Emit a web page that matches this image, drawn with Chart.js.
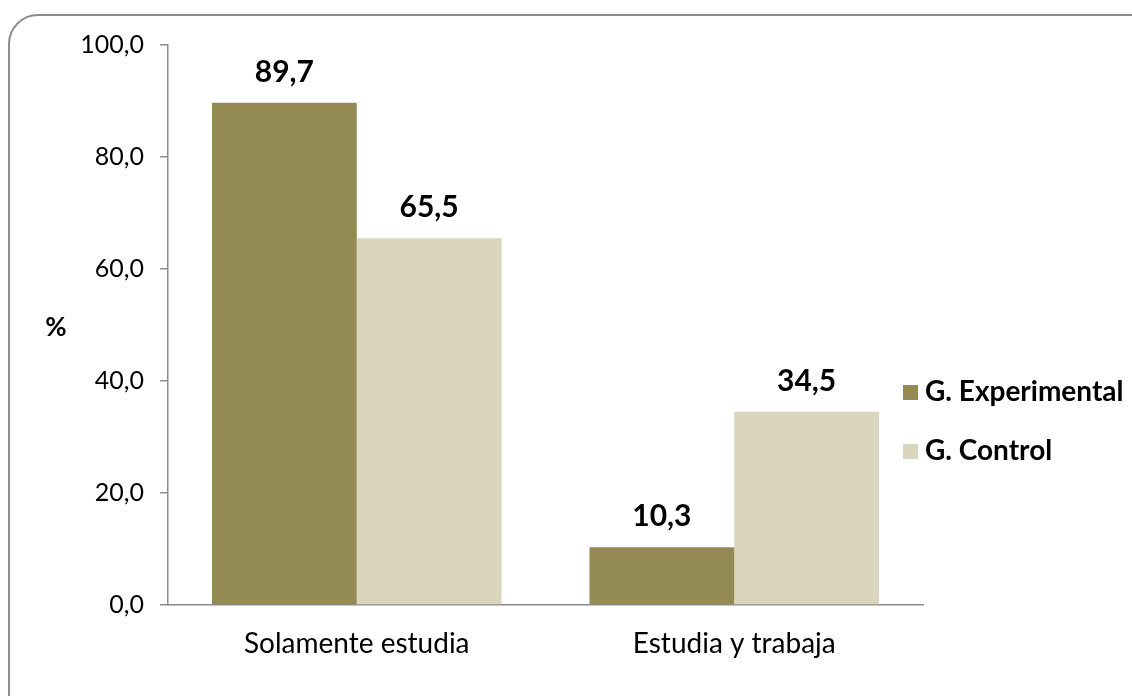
<!DOCTYPE html>
<html>
<head>
<meta charset="utf-8">
<script src="https://cdn.jsdelivr.net/npm/chart.js@4"></script>
<style>
  body { margin: 0; background: #fff; }
  #wrap { position: relative; width: 1132px; height: 696px; overflow: hidden; }
  #frame { position: absolute; left: 8px; top: 14px; width: 1160px; height: 720px;
           border: 2px solid #8c8c8c; border-radius: 30px; box-sizing: border-box; }
  canvas { position: absolute; left: 0; top: 0; }
</style>
</head>
<body>
<div id="wrap">
  <div id="frame"></div>
  <canvas id="myChart" width="1132" height="696"></canvas>
</div>
<script>
const categories = ["Solamente estudia", "Estudia y trabaja"]
const experimental = [89.7, 10.3]
const control = [65.5, 34.5]
const seriesNames = ["G. Experimental", "G. Control"]
const yTicks = [0, 20, 40, 60, 80, 100]

const fmt = v => v.toFixed(1).replace(".", ",")
const FONT = "Lato, 'Open Sans', sans-serif"

const labelsPlugin = {
  id: "extras",
  afterDatasetsDraw(chart) {
    const ctx = chart.ctx
    ctx.save()
    ctx.fillStyle = "#000"
    ctx.font = "bold 30px " + FONT
    ctx.textAlign = "center"
    ctx.textBaseline = "alphabetic"
    chart.data.datasets.forEach((ds, i) => {
      chart.getDatasetMeta(i).data.forEach((bar, j) => {
        ctx.fillText(fmt(ds.data[j]), bar.x, bar.y - 21)
      })
    })
    // y axis title, horizontal
    ctx.font = "bold 26px " + FONT
    ctx.textBaseline = "middle"
    ctx.fillText("%", 56, 328)
    // legend
    ctx.textAlign = "left"
    ctx.font = "bold 28px " + FONT
    chart.data.datasets.forEach((ds, i) => {
      const y = 392 + i * 59
      ctx.fillStyle = ds.backgroundColor
      ctx.fillRect(903, y - 7, 15, 15)
      ctx.fillStyle = "#000"
      ctx.fillText(ds.label, 925, y)
    })
    ctx.restore()
  }
}

const ctx = document.getElementById("myChart")
new Chart(ctx, {
  type: "bar",
  data: {
    labels: categories,
    datasets: [
      { label: seriesNames[0], data: experimental, backgroundColor: "#948A54" },
      { label: seriesNames[1], data: control, backgroundColor: "#DAD6BD" }
    ]
  },
  options: {
    responsive: false,
    animation: false,
    categoryPercentage: 0.767,
    barPercentage: 1,
    layout: { padding: { left: 0, right: 209, top: 45, bottom: 0 } },
    plugins: { legend: { display: false }, tooltip: { enabled: false } },
    scales: {
      x: {
        grid: { display: true, drawOnChartArea: false, drawTicks: false },
        border: { color: "#8c8c8c", width: 1.5 },
        ticks: { color: "#000", font: { family: FONT, size: 28 }, padding: 22 },
        afterFit: s => { s.height = 91 }
      },
      y: {
        min: 0,
        max: 100,
        afterBuildTicks: s => { s.ticks = yTicks.map(v => ({ value: v })) },
        grid: { drawOnChartArea: false, tickLength: 8, color: "#8c8c8c", lineWidth: 1.5 },
        border: { color: "#8c8c8c", width: 1.5 },
        ticks: { color: "#000", font: { family: FONT, size: 25 }, padding: 16, callback: v => fmt(v) },
        afterFit: s => { s.width = 168 }
      }
    }
  },
  plugins: [labelsPlugin]
})
</script>
</body>
</html>
